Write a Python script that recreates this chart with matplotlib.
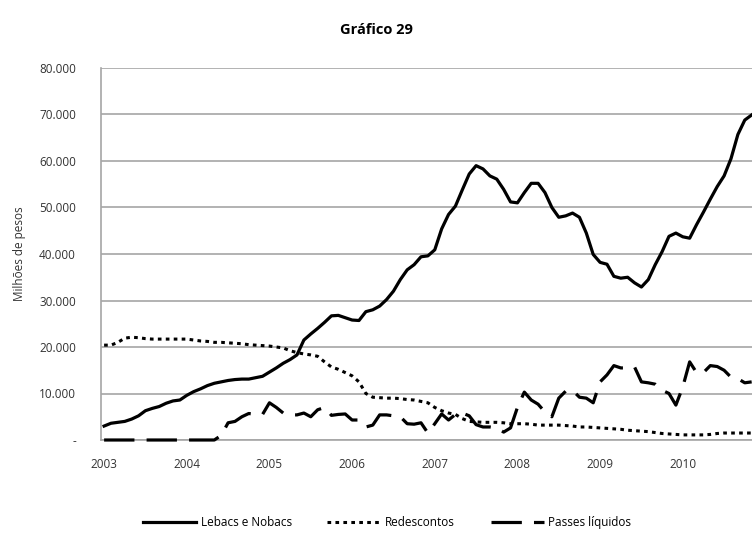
import numpy as np
import matplotlib
matplotlib.use("Agg")
import matplotlib.pyplot as plt
from matplotlib.ticker import FuncFormatter

plt.rcParams['font.family'] = ['Open Sans', 'DejaVu Sans']

# dados mensais, jan/2003 a nov/2010 (milhões de pesos)
anos = ['2003', '2004', '2005', '2006', '2007', '2008', '2009', '2010']

lebacs = [3.0, 3.6, 3.8, 4.0, 4.5, 5.2, 6.3, 6.8, 7.2, 7.9, 8.4, 8.6,
          9.6, 10.4, 11.0, 11.7, 12.2, 12.5, 12.8, 13.0, 13.1, 13.1, 13.4, 13.7,
          14.6, 15.5, 16.5, 17.3, 18.3, 21.5, 22.8, 24.0, 25.3, 26.7, 26.8, 26.3,
          25.8, 25.7, 27.6, 28.0, 28.8, 30.2, 32.0, 34.5, 36.6, 37.7, 39.4, 39.6,
          40.9, 45.4, 48.5, 50.3, 53.8, 57.2, 59.0, 58.3, 56.8, 56.1, 53.9, 51.2,
          51.0, 53.2, 55.2, 55.2, 53.2, 50.0, 47.9, 48.2, 48.8, 47.9, 44.5, 39.9,
          38.2, 37.8, 35.2, 34.8, 35.0, 33.8, 32.9, 34.5, 37.7, 40.5, 43.8, 44.5,
          43.7, 43.4, 46.3, 49.0, 51.8, 54.5, 56.8, 60.5, 65.7, 68.8, 69.9]

redescontos = [20.4, 20.4, 21.0, 21.9, 22.1, 22.0, 21.8, 21.7, 21.7, 21.7, 21.7, 21.7,
               21.7, 21.5, 21.3, 21.2, 21.0, 21.0, 20.9, 20.8, 20.7, 20.5, 20.4, 20.3,
               20.2, 20.0, 19.8, 19.2, 18.8, 18.5, 18.3, 18.0, 16.8, 15.7, 15.2, 14.5,
               13.8, 12.5, 10.0, 9.2, 9.1, 9.0, 9.0, 8.9, 8.7, 8.6, 8.3, 8.0,
               7.0, 6.3, 5.8, 5.5, 4.6, 4.0, 3.9, 3.8, 3.8, 3.8, 3.7, 3.5,
               3.5, 3.5, 3.4, 3.2, 3.2, 3.2, 3.2, 3.1, 3.0, 2.8, 2.8, 2.7,
               2.6, 2.5, 2.4, 2.3, 2.1, 2.0, 1.9, 1.8, 1.6, 1.4, 1.3, 1.2,
               1.1, 1.1, 1.1, 1.1, 1.2, 1.4, 1.5, 1.5, 1.5, 1.5, 1.5]

passes = [0, 0, 0, 0, 0, 0, 0, 0, 0, 0, 0, 0,
          0, 0, 0, 0, 0, 1.0, 3.7, 4.0, 5.0, 5.7, 5.5, 5.5,
          8.0, 7.0, 5.8, 5.4, 5.4, 5.8, 5.0, 6.5, 7.0, 5.3, 5.5, 5.6,
          4.3, 4.3, 2.8, 3.2, 5.4, 5.4, 5.2, 5.0, 3.5, 3.4, 3.7, 1.5,
          3.5, 5.6, 4.3, 5.5, 5.8, 5.2, 3.3, 2.8, 2.8, 2.6, 1.7, 2.6,
          7.0, 10.3, 8.6, 7.7, 6.0, 5.0, 9.0, 10.5, 10.7, 9.2, 9.0, 8.0,
          12.5, 14.0, 16.0, 15.5, 15.5, 15.7, 12.5, 12.3, 12.0, 10.7, 10.0, 7.5,
          11.4, 16.8, 14.5, 14.5, 16.0, 15.8, 15.0, 13.5, 13.2, 12.3, 12.5]

meses = np.arange(len(lebacs))
fator = 1000

fig = plt.figure(figsize=(7.52, 5.37), dpi=100)
ax = fig.add_axes([101 / 752, 1 - 440 / 537, 1 - 101 / 752, (440 - 68) / 537])

ax.plot(meses, np.array(lebacs) * fator, color='black', lw=2.3,
        solid_joinstyle='round', label='Lebacs e Nobacs', zorder=4)
ax.plot(meses, np.array(redescontos) * fator, color='black', lw=2.2,
        dashes=(1.2, 1.4), dash_capstyle='butt', label='Redescontos', zorder=4)
ax.plot(meses, np.array(passes) * fator, color='black', lw=2.3,
        dashes=(9.5, 3.8), dash_capstyle='butt', label='Passes líquidos',
        zorder=4, clip_on=False)

ax.set_xlim(-0.45, 94.05)
ax.set_ylim(0, 80000)
ax.set_yticks(np.arange(0, 80001, 10000))
ax.yaxis.set_major_formatter(FuncFormatter(
    lambda v, p: '-' if v == 0 else f'{int(v):,}'.replace(',', '.')))
ax.set_xticks(np.arange(0, len(anos) * 12, 12))
ax.set_xticklabels(anos)

ax.grid(axis='y', color='#a6a6a6', lw=1.2)
ax.set_axisbelow(True)
for s in ['top', 'right']:
    ax.spines[s].set_visible(False)
for s in ['left', 'bottom']:
    ax.spines[s].set_color('#a6a6a6')
    ax.spines[s].set_linewidth(1.2)
ax.tick_params(length=0, labelsize=8.5, labelcolor='#333333')
ax.tick_params(axis='y', pad=18)
ax.tick_params(axis='x', pad=13)

ax.set_ylabel('Milhões de pesos', fontsize=8.5, color='#333333', labelpad=9)
fig.text(0.5, 0.945, 'Gráfico 29', ha='center', va='center',
         fontsize=10.5, fontweight='bold')

fig.legend(loc='lower center', bbox_to_anchor=(0.515, -0.005), ncol=3,
           frameon=False, fontsize=8.5, handlelength=4.5, columnspacing=3,
           handletextpad=0.4)

fig.savefig('out.png', dpi=100)
